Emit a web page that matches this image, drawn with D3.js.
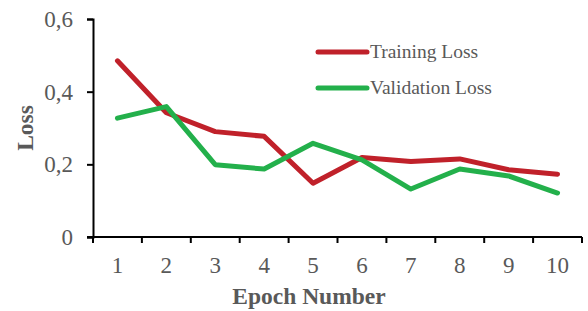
<!DOCTYPE html>
<html>
<head>
<meta charset="utf-8">
<script src="https://cdn.jsdelivr.net/npm/d3@7"></script>
<style>
  body { margin: 0; background: #fff; }
  svg { display: block; font-family: "Liberation Serif", "Times New Roman", serif; }
</style>
</head>
<body>
<div id="chart"></div>
<script>
const epochs = ["1", "2", "3", "4", "5", "6", "7", "8", "9", "10"];
const trainingLoss = [0.485, 0.342, 0.290, 0.277, 0.148, 0.219, 0.208, 0.215, 0.185, 0.173];
const validationLoss = [0.327, 0.359, 0.199, 0.187, 0.258, 0.212, 0.132, 0.187, 0.168, 0.121];
const yTicks = [0, 0.2, 0.4, 0.6];
const seriesNames = ["Training Loss", "Validation Loss"];
const seriesColors = ["#c0212a", "#23b04b"];

const width = 588, height = 311;
const margin = { top: 19, right: 6, bottom: 74, left: 93 };
const chartWidth = width - margin.left - margin.right;
const chartHeight = height - margin.top - margin.bottom;

const svg = d3.select("#chart").append("svg")
    .attr("width", width)
    .attr("height", height);

const x = d3.scaleBand()
    .domain(epochs)
    .range([0, chartWidth]);

const y = d3.scaleLinear()
    .domain([0, 0.6])
    .range([chartHeight, 0]);

const chartArea = svg.append("g")
    .attr("transform", `translate(${margin.left}, ${margin.top})`);

const fmt = d => d === 0 ? "0" : d3.format(".1f")(d).replace(".", ",");

// y axis
const yAxis = chartArea.append("g")
    .call(d3.axisLeft(y).tickValues(yTicks).tickFormat(fmt).tickSize(6).tickPadding(14));
yAxis.select(".domain").attr("stroke", "#000").attr("stroke-width", 2);
yAxis.selectAll(".tick line").attr("stroke", "#000").attr("stroke-width", 2);
yAxis.selectAll("text")
    .attr("fill", "#595959")
    .style("font-size", "23px")
    .style("font-family", "Liberation Serif");

// x axis: ticks at band boundaries
const xAxis = chartArea.append("g")
    .attr("transform", `translate(0, ${chartHeight})`);
xAxis.append("line")
    .attr("x1", -6).attr("x2", chartWidth)
    .attr("stroke", "#000").attr("stroke-width", 2);
xAxis.selectAll(".bound")
    .data(epochs.concat(["end"]))
    .enter().append("line")
    .attr("x1", (d, i) => i < epochs.length ? x(d) : chartWidth)
    .attr("x2", (d, i) => i < epochs.length ? x(d) : chartWidth)
    .attr("y1", 0).attr("y2", 6)
    .attr("stroke", "#000").attr("stroke-width", 2);
xAxis.selectAll(".lbl")
    .data(epochs)
    .enter().append("text")
    .attr("x", d => x(d) + x.bandwidth() / 2)
    .attr("y", 36)
    .attr("text-anchor", "middle")
    .attr("fill", "#595959")
    .style("font-size", "23px")
    .text(d => d);

// lines
const line = d3.line()
    .x((d, i) => x(epochs[i]) + x.bandwidth() / 2)
    .y(d => y(d));

[trainingLoss, validationLoss].forEach((series, k) => {
    chartArea.append("path")
        .datum(series)
        .attr("fill", "none")
        .attr("stroke", seriesColors[k])
        .attr("stroke-width", 5)
        .attr("stroke-linejoin", "round")
        .attr("stroke-linecap", "round")
        .attr("d", line);
});

// axis titles
svg.append("text")
    .attr("x", 309)
    .attr("y", 304)
    .attr("text-anchor", "middle")
    .attr("fill", "#595959")
    .style("font-size", "23.5px")
    .style("font-weight", "bold")
    .text("Epoch Number");

svg.append("text")
    .attr("transform", "translate(33, 128) rotate(-90)")
    .attr("text-anchor", "middle")
    .attr("fill", "#595959")
    .style("font-size", "23.5px")
    .style("font-weight", "bold")
    .text("Loss");

// legend
const legend = svg.append("g");
const legendItems = legend.selectAll("g")
    .data(seriesNames)
    .enter().append("g")
    .attr("transform", (d, i) => `translate(318, ${52 + i * 36})`);
legendItems.append("line")
    .attr("x1", 0).attr("x2", 49)
    .attr("stroke", (d, i) => seriesColors[i])
    .attr("stroke-width", 5)
    .attr("stroke-linecap", "round");
legendItems.append("text")
    .attr("x", 52)
    .attr("y", 6)
    .attr("fill", "#595959")
    .style("font-size", "19.5px")
    .text(d => d);
</script>
</body>
</html>
